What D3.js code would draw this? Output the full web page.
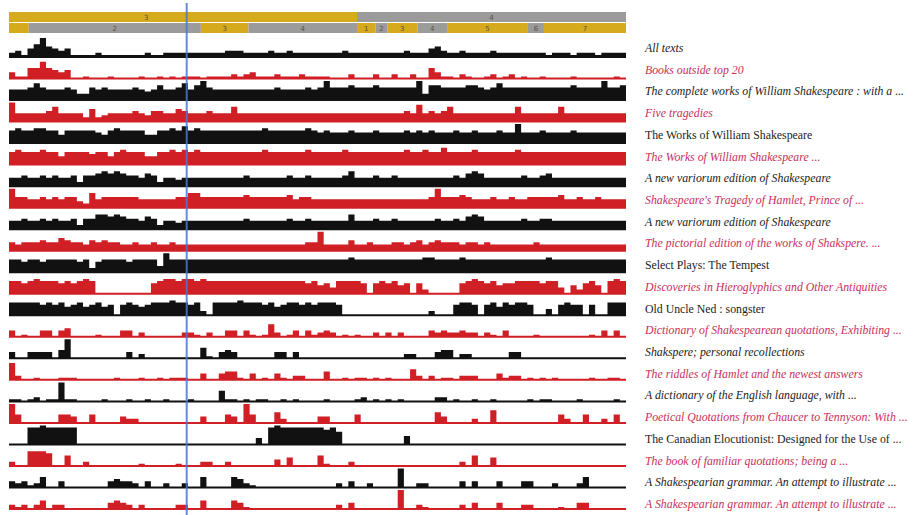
<!DOCTYPE html>
<html>
<head>
<meta charset="utf-8">
<script src="https://cdn.jsdelivr.net/npm/d3@7"></script>
<style>
  body { margin: 0; background: #fff; }
  svg { display: block; }
  .row-label { font-family: "Liberation Serif", "DejaVu Serif", serif; font-size: 11.8px; }
</style>
</head>
<body>
<div id="chart"></div>
<script>
// Act / scene bands along the top (positions in bin units, 100 bins across).
// The first act and scene begin before the window, so they start left of 0.
const actSegments = [
  { start: -11.9, end: 56.4, label: '3' },
  { start: 56.4, end: 100, label: '4' },
];
const sceneSegments = [
  { start: -8, end: 3.2, label: '' },
  { start: 3.2, end: 31.1, label: '2' },
  { start: 31.1, end: 38.8, label: '3' },
  { start: 38.8, end: 56.4, label: '4' },
  { start: 56.4, end: 59.4, label: '1' },
  { start: 59.4, end: 61.3, label: '2' },
  { start: 61.3, end: 66.2, label: '3' },
  { start: 66.2, end: 71.0, label: '4' },
  { start: 71.0, end: 84.1, label: '5' },
  { start: 84.1, end: 86.7, label: '6' },
  { start: 86.7, end: 100, label: '7' },
];

// Selected position (blue marker)
const markerBin = 28.8;

const rowLabels = [
  'All texts',
  'Books outside top 20',
  'The complete works of William Shakespeare : with a ...',
  'Five tragedies',
  'The Works of William Shakespeare',
  'The Works of William Shakespeare ...',
  'A new variorum edition of Shakespeare',
  "Shakespeare's Tragedy of Hamlet, Prince of ...",
  'A new variorum edition of Shakespeare',
  'The pictorial edition of the works of Shakspere. ...',
  'Select Plays: The Tempest',
  'Discoveries in Hieroglyphics and Other Antiquities',
  'Old Uncle Ned : songster',
  'Dictionary of Shakespearean quotations, Exhibiting ...',
  'Shakspere; personal recollections',
  'The riddles of Hamlet and the newest answers',
  'A dictionary of the English language, with ...',
  'Poetical Quotations from Chaucer to Tennyson: With ...',
  'The Canadian Elocutionist: Designed for the Use of ...',
  'The book of familiar quotations; being a ...',
  'A Shakespearian grammar. An attempt to illustrate ...',
  'A Shakespearian grammar. An attempt to illustrate ...',
];

const uprightRows = [4, 10, 12, 18];

// Quotation density per bin (0-9), 100 bins per row, grouped by ten
const rowCounts = [
  '2314695434 1111211111 1121122222 2222233322 2232232222 2222322222 2222322245 3223222232 2222222122 2122212222',
  '3115585434 0010001000 0100101011 1011112123 1112111211 1100020002 0020020053 1102100120 1201001000 0100000010',
  '5556865556 5336565555 6545755685 7965555555 5556555565 6966676667 6666669377 6666776568 6666666666 6766669667',
  '9444445744 4426234444 5435544654 4454447444 4444444444 4444444444 4444548454 5744444444 4474444447 4444444444',
  '6766776646 6666546766 6644667686 7666666666 6766666676 5655565556 5555656565 5565565556 5595556555 5655555555',
  '6766676646 6665664676 6644667676 7666666666 6766666676 6666766666 6666766766 8666676666 6676666666 6666666666',
  '4454454544 5255676765 5465244344 4444444454 4444454454 4444574445 4454444444 4454676444 4445445644 4444444444',
  '9554454545 5327455555 5444444557 7555555565 5555564554 4444444444 4444444459 5556544454 4544555556 4454454444',
  '4454454544 5255776765 5465244344 4444444454 4444454454 4444474445 4454444445 4454676444 4445445544 4444444444',
  '4344454465 4435454433 4334334333 3333333333 3333333344 9333353343 3344345345 4443443433 3333343333 3333333333',
  '6656656666 6562566665 6666396666 6666666666 6666666666 6666676666 6666666776 6667666666 6666666766 6666666666',
  '6656766656 5676000000 0005677677 6766666666 6666666656 4536666505 6564505200 0005676564 5566665663 0425640676',
  '6666656564 5645645056 5456667665 6206666766 6564566565 6665000000 0000000020 0056650564 6566500305 6550500666',
  '3010033034 0000100033 0200000022 1020033031 0162013031 2320101002 0202000032 3223220210 3000010000 0000103030',
  '3003333049 0000000003 0200000000 0510343000 0003303000 0000000000 0000220003 4402200000 0330000000 0000000000',
  '8200100011 1000000100 0100101110 0300344103 0103102200 0400101101 0100052020 1102220003 1220101010 0000100110',
  '1101201191 1000010001 0010010001 0000511010 1100101000 0100001201 0101000002 2010010010 0000101100 0010000010',
  '9400000044 3004000032 2000000000 0300043094 0005200000 3300004000 0000000005 3000020060 0000000004 2004002040',
  '0008898888 8000000000 0000000000 0000000000 3089888888 8786000000 0000400000 0000000000 0000000000 0000000000',
  '2007776005 0020000000 0100000100 0220020000 0003040000 5100020000 0000000000 0002050040 0000000000 0000000000',
  '3231250030 0000003433 2030020020 0500005421 0000000000 0002030020 0009002200 0003030003 0003300020 0025000000',
  '2120240220 0000003432 0200000220 0400004310 0000000000 0002030000 0009002100 0002030003 0002200001 0033000000',
];

const width = 913;
const height = 515;
const nBins = 100;
const rowColors = ['#111111', '#d11f26'];
const labelColors = ['#1c1c1c', '#c8305a'];
const bandColors = ['#d5aa1c', '#9b9b9b'];

const svg = d3.select('#chart')
  .append('svg')
  .attr('width', width)
  .attr('height', height)
  .attr('viewBox', `0 0 ${width} ${height}`);

svg.append('rect')
  .attr('width', width)
  .attr('height', height)
  .attr('fill', '#fff');

const x = d3.scaleLinear().domain([0, nBins]).range([9, 626]);
const rowY = d3.scaleLinear().domain([0, rowCounts.length - 1]).range([57, 509]);
const labelY = d3.scaleLinear().domain([0, rowCounts.length - 1]).range([52, 508]);
const h = d3.scaleLinear().domain([0, 9]).range([0, 19]);

svg.append('clipPath')
  .attr('id', 'plot-clip')
  .append('rect')
  .attr('x', x(0))
  .attr('y', 0)
  .attr('width', x(nBins) - x(0))
  .attr('height', height);

// --- Top bands ---
function drawBand(segments, y0, bandH) {
  const g = svg.append('g').attr('clip-path', 'url(#plot-clip)');
  const seg = g.selectAll('g')
    .data(segments)
    .join('g');

  seg.append('rect')
    .attr('x', d => x(d.start))
    .attr('y', y0)
    .attr('width', d => x(d.end) - x(d.start))
    .attr('height', bandH)
    .attr('fill', (d, i) => bandColors[i % 2]);

  seg.filter(d => d.label)
    .append('text')
    .attr('x', d => (x(d.start) + x(d.end)) / 2)
    .attr('y', y0 + bandH / 2 + 2.5)
    .attr('text-anchor', 'middle')
    .attr('font-family', 'DejaVu Sans, sans-serif')
    .attr('font-size', '7px')
    .attr('fill', '#5a5040')
    .text(d => d.label);
}

drawBand(actSegments, 12, 10);
drawBand(sceneSegments, 23, 10);

// --- Rows ---
const area = d3.area()
  .curve(d3.curveStepAfter)
  .x(d => x(d.i))
  .y0(0)
  .y1(d => -h(d.v));

const rows = svg.append('g')
  .selectAll('g')
  .data(rowCounts)
  .join('g')
  .attr('transform', (d, i) => `translate(0, ${rowY(i)})`);

rows.append('path')
  .attr('d', d => {
    const vals = d.replace(/\s/g, '').split('').map(Number);
    const pts = vals.map((v, i) => ({ i, v }));
    pts.push({ i: vals.length, v: vals[vals.length - 1] });
    return area(pts);
  })
  .attr('fill', (d, i) => rowColors[i % 2]);

rows.append('line')
  .attr('x1', x(0))
  .attr('x2', x(nBins))
  .attr('y1', 0)
  .attr('y2', 0)
  .attr('stroke', (d, i) => rowColors[i % 2])
  .attr('stroke-width', 2);

svg.append('g')
  .selectAll('text')
  .data(rowLabels)
  .join('text')
  .attr('class', 'row-label')
  .attr('x', 645)
  .attr('y', (d, i) => labelY(i))
  .attr('font-style', (d, i) => uprightRows.includes(i) ? 'normal' : 'italic')
  .attr('fill', (d, i) => labelColors[i % 2])
  .text(d => d);

// --- Marker line ---
svg.append('line')
  .attr('x1', x(markerBin))
  .attr('x2', x(markerBin))
  .attr('y1', 3)
  .attr('y2', height)
  .attr('stroke', '#4a78d0')
  .attr('stroke-opacity', 0.85)
  .attr('stroke-width', 2);
</script>
</body>
</html>
